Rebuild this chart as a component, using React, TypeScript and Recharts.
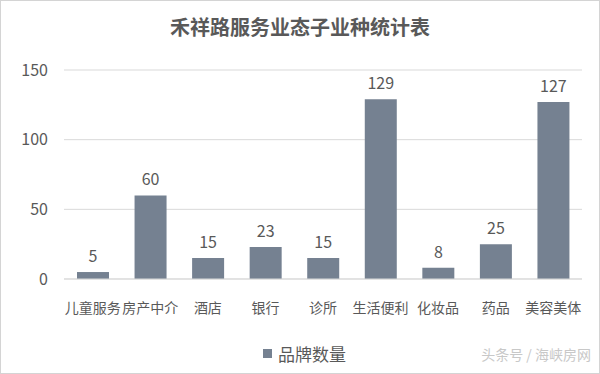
import React from 'react';
import { BarChart, Bar, XAxis, YAxis, CartesianGrid, LabelList } from 'recharts';

// chart content
const chartTitle = '禾祥路服务业态子业种统计表';
const categories = ['儿童服务', '房产中介', '酒店', '银行', '诊所', '生活便利', '化妆品', '药品', '美容美体'];
const brandCounts = [5, 60, 15, 23, 15, 129, 8, 25, 127];
const seriesName = '品牌数量';
const yTicks = [0, 50, 100, 150];
const watermark = '头条号 / 海峡房网';

const textColor = '#595959';
const barColor = '#758191';
const font = '"Noto Sans CJK SC", "Microsoft YaHei", sans-serif';

const data = categories.map((name, i) => ({ name, value: brandCounts[i] }));

const App: React.FC = () => {
  return (
    <div
      style={{
        position: 'absolute',
        left: 0,
        top: 0,
        width: 600,
        height: 374,
        boxSizing: 'border-box',
        border: '1px solid #d4d4d4',
        background: '#fff',
        fontFamily: font,
        overflow: 'hidden',
      }}
    >
      <div
        style={{
          position: 'absolute',
          top: 14,
          left: 0,
          width: 598,
          textAlign: 'center',
          fontSize: 20,
          fontWeight: 'bold',
          color: textColor,
          lineHeight: '24px',
        }}
      >
        {chartTitle}
      </div>

      <div style={{ position: 'absolute', left: -1, top: -1 }}>
        <BarChart width={600} height={374} data={data} margin={{ top: 70, right: 18, left: 0, bottom: 65 }}>
          <CartesianGrid vertical={false} stroke="#d9d9d9" />
          <XAxis
            dataKey="name"
            height={30}
            interval={0}
            tickLine={false}
            tickSize={0}
            tickMargin={24}
            axisLine={{ stroke: '#d9d9d9' }}
            tick={{ fill: textColor, fontSize: 14, fontFamily: font }}
          />
          <YAxis
            width={64}
            domain={[0, 150]}
            ticks={yTicks}
            axisLine={false}
            tickLine={false}
            tickSize={0}
            tickMargin={16}
            tick={{ fill: textColor, fontSize: 16, fontFamily: font }}
          />
          <Bar dataKey="value" name={seriesName} fill={barColor} barSize={32} isAnimationActive={false}>
            <LabelList dataKey="value" position="top" offset={10} fill={textColor} fontSize={16} fontFamily={font} />
          </Bar>
        </BarChart>
      </div>

      {/* legend */}
      <div
        style={{
          position: 'absolute',
          top: 340,
          left: 262,
          display: 'flex',
          alignItems: 'center',
          color: textColor,
          fontSize: 17,
        }}
      >
        <span style={{ display: 'inline-block', width: 9, height: 9, background: barColor, marginRight: 6 }} />
        <span>{seriesName}</span>
      </div>

      <div
        style={{
          position: 'absolute',
          right: 8,
          top: 343,
          color: '#c8c8c8',
          fontSize: 14,
        }}
      >
        {watermark}
      </div>
    </div>
  );
};

export default App;
